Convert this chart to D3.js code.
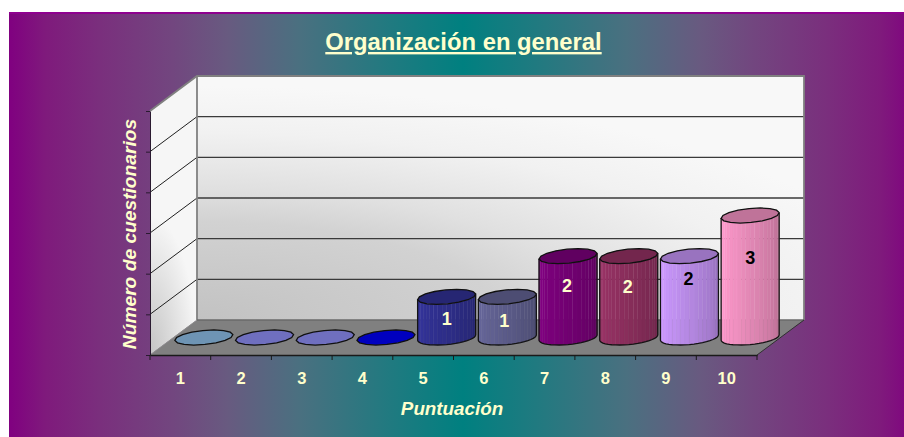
<!DOCTYPE html>
<html>
<head>
<meta charset="utf-8">
<script src="https://cdn.jsdelivr.net/npm/d3@7"></script>
<style>
html, body { margin: 0; padding: 0; background: #fff; overflow: hidden; }
text { font-family: "Liberation Sans", Arial, sans-serif; font-weight: bold; fill: #ffffcc; }
</style>
</head>
<body>
<script>
//chart data
var categories = ["1", "2", "3", "4", "5", "6", "7", "8", "9", "10"];
var values = [0, 0, 0, 0, 1, 1, 2, 2, 2, 3];
var valueTicks = [0, 1, 2, 3, 4, 5, 6];

//bar colours, one per category
var barColors = ["#93c5f0", "#9494ff", "#9494ff", "#0000ff", "#333399", "#666699", "#800080", "#993366", "#cc99ff", "#ff99cc"];
var labelColors = ["", "", "", "", "#ffffcc", "#ffffcc", "#ffffcc", "#ffffcc", "#000000", "#000000"];

//frame dimensions
var width = 904,
    height = 437,
    panelLeft = 9,
    panelRight = 917, //runs past the window, the teal centre sits at 463
    plotLeft = 150,
    plotRight = 757,
    plotTop = 111,
    plotBottom = 355,
    depthX = 47,
    depthY = -35;

var svg = d3.select("body")
    .append("svg")
    .attr("width", width)
    .attr("height", height)
    .style("display", "block");

var defs = svg.append("defs");

//background gradient, purple to teal and back, stays purple longer than a plain blend
var bg = defs.append("linearGradient").attr("id", "bg");
[[0, "#800080"], [0.04, "#7f1a7c"], [0.1, "#7a2f7d"], [0.18, "#72467f"], [0.24, "#685a80"], [0.32, "#4a7080"], [0.42, "#207a80"], [0.5, "#008080"],
 [0.58, "#207a80"], [0.68, "#4a7080"], [0.76, "#685a80"], [0.82, "#72467f"], [0.9, "#7a2f7d"], [0.96, "#7f1a7c"], [1, "#800080"]].forEach(function(s){
    bg.append("stop").attr("offset", s[0]).attr("stop-color", s[1]);
});

//wall gradients, both spread out of the bottom left corner
var backWall = defs.append("radialGradient").attr("id", "backWall")
    .attr("cx", 0).attr("cy", 1).attr("r", 1.2)
    .attr("gradientTransform", "translate(0,1) scale(1,0.8) translate(0,-1)");
[[0, "#c2c2c2"], [0.42, "#d2d2d2"], [0.56, "#e0e0e0"], [0.67, "#e8e8e8"], [0.8, "#f1f1f1"], [1, "#f8f8f8"]].forEach(function(s){
    backWall.append("stop").attr("offset", s[0]).attr("stop-color", s[1]);
});

var sideWall = defs.append("radialGradient").attr("id", "sideWall")
    .attr("cx", 0).attr("cy", 1).attr("r", 1)
    .attr("gradientTransform", "translate(0,1) scale(1,0.5) translate(0,-1)");
sideWall.append("stop").attr("offset", "0%").attr("stop-color", "#c4c4c4");
sideWall.append("stop").attr("offset", "100%").attr("stop-color", "#f6f6f6");

svg.append("rect")
    .attr("x", panelLeft).attr("y", 12)
    .attr("width", panelRight - panelLeft).attr("height", 425)
    .attr("fill", "url(#bg)");
svg.append("rect")
    .attr("x", panelLeft).attr("y", 12)
    .attr("width", width - panelLeft).attr("height", 2)
    .attr("fill", "#8f008f");

//scales
var x = d3.scaleBand()
    .domain(categories)
    .range([plotLeft, plotRight]);

var y = d3.scaleLinear()
    .domain([0, 6])
    .range([plotBottom, plotTop]);

var line = d3.line();

//walls and floor
var walls = svg.append("g");

walls.append("path")
    .attr("d", line([[plotLeft, plotTop], [plotLeft + depthX, plotTop + depthY], [plotLeft + depthX, plotBottom + depthY], [plotLeft, plotBottom]]) + "Z")
    .attr("fill", "url(#sideWall)");

walls.append("rect")
    .attr("x", plotLeft + depthX)
    .attr("y", plotTop + depthY)
    .attr("width", plotRight - plotLeft)
    .attr("height", plotBottom - plotTop)
    .attr("fill", "url(#backWall)");

walls.append("path")
    .attr("d", line([[plotLeft, plotBottom], [plotRight, plotBottom], [plotRight + depthX, plotBottom + depthY], [plotLeft + depthX, plotBottom + depthY]]) + "Z")
    .attr("fill", "#808080");

//gridlines on both walls
walls.selectAll(".gridBack")
    .data(valueTicks.slice(1, -1))
    .enter()
    .append("line")
    .attr("class", "gridBack")
    .attr("x1", plotLeft + depthX)
    .attr("x2", plotRight + depthX)
    .attr("y1", function(d){ return y(d) + depthY; })
    .attr("y2", function(d){ return y(d) + depthY; })
    .attr("stroke", "#3a3a3a")
    .attr("stroke-width", 1.4);

walls.selectAll(".gridSide")
    .data(valueTicks.slice(1, -1))
    .enter()
    .append("line")
    .attr("class", "gridSide")
    .attr("x1", plotLeft)
    .attr("x2", plotLeft + depthX)
    .attr("y1", function(d){ return y(d); })
    .attr("y2", function(d){ return y(d) + depthY; })
    .attr("stroke", "#202020")
    .attr("stroke-width", 1);

//grey frame round the walls
walls.append("path")
    .attr("d", line([[plotLeft, plotTop], [plotLeft + depthX, plotTop + depthY], [plotRight + depthX, plotTop + depthY], [plotRight + depthX, plotBottom + depthY]]))
    .attr("fill", "none")
    .attr("stroke", "#808080")
    .attr("stroke-width", 1.8);
walls.append("line")
    .attr("x1", plotLeft + depthX).attr("x2", plotLeft + depthX)
    .attr("y1", plotTop + depthY).attr("y2", plotBottom + depthY)
    .attr("stroke", "#808080")
    .attr("stroke-width", 1.8);
walls.append("line")
    .attr("x1", plotLeft + depthX).attr("x2", plotRight + depthX)
    .attr("y1", plotBottom + depthY).attr("y2", plotBottom + depthY)
    .attr("stroke", "#6a6a6a")
    .attr("stroke-width", 1.5);
walls.append("line")
    .attr("x1", plotLeft).attr("x2", plotLeft + depthX)
    .attr("y1", plotBottom).attr("y2", plotBottom + depthY)
    .attr("stroke", "#909090")
    .attr("stroke-width", 1);
walls.append("line")
    .attr("x1", plotRight).attr("x2", plotRight + depthX)
    .attr("y1", plotBottom).attr("y2", plotBottom + depthY)
    .attr("stroke", "#303030")
    .attr("stroke-width", 1);

//axes
var yAxis = svg.append("g")
    .attr("transform", "translate(" + plotLeft + ",0)")
    .call(d3.axisLeft(y).tickValues(valueTicks).tickSize(4).tickSizeOuter(0).tickFormat(""));
yAxis.selectAll("path, line").attr("stroke", "#2a1a30").attr("stroke-width", 1);

var xAxis = svg.append("g")
    .attr("transform", "translate(0," + plotBottom + ")")
    .call(d3.axisBottom(x).tickSize(0).tickPadding(17));
xAxis.select(".domain").attr("stroke", "#1a1a1a").attr("stroke-width", 1.6);
xAxis.selectAll("text")
    .style("font-size", "16.5px")
    .attr("font-family", null);

svg.selectAll(".xTick")
    .data(categories.concat(["end"]))
    .enter()
    .append("line")
    .attr("class", "xTick")
    .attr("x1", function(d){ return d == "end" ? plotRight : x(d); })
    .attr("x2", function(d){ return d == "end" ? plotRight : x(d); })
    .attr("y1", plotBottom)
    .attr("y2", plotBottom + 5)
    .attr("stroke", "#1a1a1a")
    .attr("stroke-width", 1);

//cylinders
var bars = svg.append("g");
var barRadius = 27.2,
    depthFrac = 0.43,
    nFacets = 20;

//point on the ellipse of one bar, floor circle sheared into the chart's depth
function ellipsePoint(cx, cy, t) {
    return [
        cx + barRadius * Math.cos(t) + depthFrac * depthX / 2 * Math.sin(t),
        cy + depthFrac * depthY / 2 * Math.sin(t)
    ];
}

var tRight = Math.atan2(depthFrac * depthX / 2, barRadius);

categories.forEach(function(cat, i){
    var v = values[i],
        cx = x(cat) + x.bandwidth() / 2 + depthX / 2,
        baseY = plotBottom + depthY / 2,
        topY = y(v) + depthY / 2,
        color = d3.color(barColors[i]),
        g = bars.append("g");

    if (v > 0) {
        //visible side runs from the leftmost point round the front to the rightmost
        var start = tRight + Math.PI,
            end = tRight + 2 * Math.PI;
        var tScale = d3.scaleLinear().domain([0, nFacets]).range([start, end]);
        var shade = d3.scaleLinear()
            .domain([0, 0.12, 0.3, 1])
            .range([0.96, 1, 0.95, 0.72]);

        d3.range(nFacets).forEach(function(k){
            var t0 = tScale(k), t1 = tScale(k + 1),
                b0 = ellipsePoint(cx, baseY, t0),
                b1 = ellipsePoint(cx, baseY, t1),
                u0 = ellipsePoint(cx, topY, t0),
                u1 = ellipsePoint(cx, topY, t1),
                s = shade((k + 0.5) / nFacets),
                lift = k % 4 == 3 ? 14 : 0;
            g.append("path")
                .attr("d", line([b0, b1, u1, u0]) + "Z")
                .attr("fill", d3.rgb(color.r * s, color.g * s, color.b * s))
                .attr("stroke", d3.rgb(Math.min(255, color.r * s + lift), Math.min(255, color.g * s + lift), Math.min(255, color.b * s + lift)))
                .attr("stroke-width", 0.4);
        });

        //outline of the side
        var front = d3.range(nFacets + 1).map(function(k){ return ellipsePoint(cx, baseY, tScale(k)); });
        var leftTop = ellipsePoint(cx, topY, start),
            rightTop = ellipsePoint(cx, topY, end);
        g.append("path")
            .attr("d", line([leftTop].concat(front, [rightTop])))
            .attr("fill", "none")
            .attr("stroke", "#141414")
            .attr("stroke-width", 1.3);
    }

    //top cap, this is all that shows for a zero bar
    var cap = d3.range(16).map(function(k){ return ellipsePoint(cx, topY, k / 16 * 2 * Math.PI); });
    var capFill = d3.rgb(color.r * 0.75, color.g * 0.75, color.b * 0.75);
    g.append("path")
        .attr("d", line(cap) + "Z")
        .attr("fill", capFill)
        .attr("stroke", "#101010")
        .attr("stroke-width", 1.3);
});

//value labels, Excel leaves these at uneven heights inside the bars
var labelDrop = [0, 0, 0, 0, 28, 30, 36, 37, 29, 48.5],
    labelShift = [0, 0, 0, 0, 0, -3, -1, -1, -1, 0];

svg.selectAll(".valueLabel")
    .data(categories.filter(function(d, i){ return values[i] > 0; }))
    .enter()
    .append("text")
    .attr("class", "valueLabel")
    .attr("text-anchor", "middle")
    .attr("x", function(d){ return x(d) + x.bandwidth() / 2 + depthX / 2 + labelShift[categories.indexOf(d)]; })
    .attr("y", function(d){
        var i = categories.indexOf(d);
        return y(values[i]) + depthY / 2 + labelDrop[i];
    })
    .style("font-size", "18px")
    .style("fill", function(d){ return labelColors[categories.indexOf(d)]; })
    .text(function(d){ return values[categories.indexOf(d)]; });

//titles
svg.append("text")
    .attr("x", 463.5)
    .attr("y", 50)
    .attr("text-anchor", "middle")
    .style("font-size", "23.8px")
    .style("text-decoration", "underline")
    .text("Organización en general");

svg.append("text")
    .attr("x", 452)
    .attr("y", 415)
    .attr("text-anchor", "middle")
    .style("font-size", "18.8px")
    .style("font-style", "italic")
    .text("Puntuación");

svg.append("text")
    .attr("transform", "translate(136,234) rotate(-90)")
    .attr("text-anchor", "middle")
    .style("font-size", "19.2px")
    .style("font-style", "italic")
    .text("Número de cuestionarios");
</script>
</body>
</html>
